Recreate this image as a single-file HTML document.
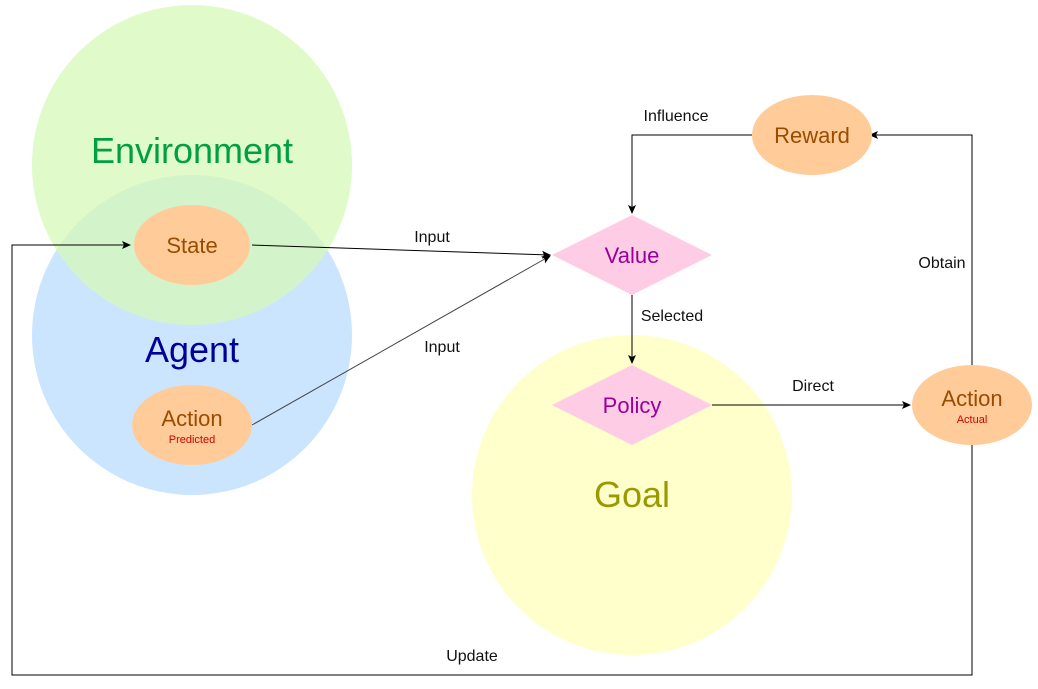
<!DOCTYPE html>
<html><head><meta charset="utf-8"><style>
html,body{margin:0;padding:0;background:#fff;}
svg{display:block;font-family:"Liberation Sans",sans-serif;}
</style></head><body>
<svg width="1038" height="689" viewBox="0 0 1038 689" xmlns="http://www.w3.org/2000/svg">
<defs>
<marker id="a" markerWidth="10" markerHeight="10" refX="8" refY="5" orient="auto" markerUnits="userSpaceOnUse">
<path d="M0,1 L9,5 L0,9 L2,5 Z" fill="#000"/></marker>
</defs>
<circle cx="192" cy="335" r="160" fill="#cce5ff"/>
<circle cx="192" cy="165" r="160" fill="#d5f8b8" fill-opacity="0.75"/>
<circle cx="632" cy="495" r="160" fill="#ffffcc"/>
<text x="192" y="163" font-size="36" fill="#00a040" text-anchor="middle">Environment</text>
<text x="192" y="362" font-size="36" fill="#000099" text-anchor="middle">Agent</text>
<text x="632" y="507" font-size="36" fill="#999900" text-anchor="middle">Goal</text>

<g stroke="#000" stroke-width="1" fill="none">
<line x1="252" y1="245" x2="550" y2="255" marker-end="url(#a)"/>
<line x1="252" y1="425" x2="550" y2="256" stroke="#444" marker-end="url(#a)"/>
<polyline points="752,135 632,135 632,213" marker-end="url(#a)"/>
<line x1="632" y1="295" x2="632" y2="363" marker-end="url(#a)"/>
<line x1="712" y1="405" x2="910" y2="405" marker-end="url(#a)"/>
<polyline points="972,365 972,135 870,135" marker-end="url(#a)"/>
<polyline points="972,445 972,675 12,675 12,245 130,245" marker-end="url(#a)"/>
</g>

<ellipse cx="192" cy="245" rx="58" ry="40" fill="#ffcc99"/>
<text x="192" y="253" font-size="22" fill="#994c00" text-anchor="middle">State</text>
<ellipse cx="192" cy="425" rx="60" ry="40" fill="#ffcc99"/>
<text x="192" y="426" font-size="22" fill="#994c00" text-anchor="middle">Action</text>
<text x="192" y="443" font-size="11" fill="#cc0000" text-anchor="middle">Predicted</text>
<ellipse cx="812" cy="135" rx="60" ry="40" fill="#ffcc99"/>
<text x="812" y="143" font-size="22" fill="#994c00" text-anchor="middle">Reward</text>
<ellipse cx="972" cy="405" rx="60" ry="40" fill="#ffcc99"/>
<text x="972" y="406" font-size="22" fill="#994c00" text-anchor="middle">Action</text>
<text x="972" y="423" font-size="11" fill="#cc0000" text-anchor="middle">Actual</text>

<polygon points="552,255 632,215 712,255 632,295" fill="#ffcce6"/>
<text x="632" y="263" font-size="22" fill="#990099" text-anchor="middle">Value</text>
<polygon points="552,405 632,365 712,405 632,445" fill="#ffcce6"/>
<text x="632" y="413" font-size="22" fill="#990099" text-anchor="middle">Policy</text>

<g font-size="16" fill="#111" text-anchor="middle">
<text x="432" y="242">Input</text>
<text x="442" y="352">Input</text>
<text x="676" y="121">Influence</text>
<text x="672" y="321">Selected</text>
<text x="813" y="391">Direct</text>
<text x="942" y="268">Obtain</text>
<text x="472" y="661">Update</text>
</g>
</svg>
</body></html>
